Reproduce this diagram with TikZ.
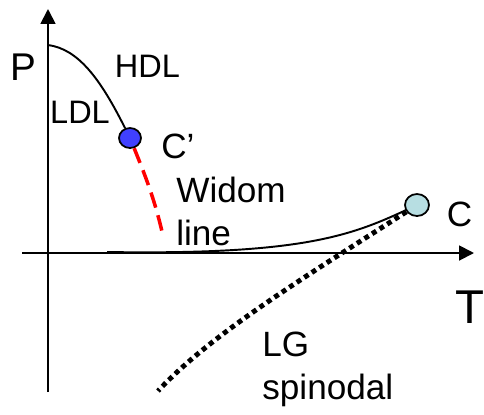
\documentclass[tikz,border=0pt]{standalone}
\usepackage{fontspec}
\setmainfont{Liberation Sans}
\usetikzlibrary{arrows.meta,shapes.geometric}
\definecolor{cpblue}{RGB}{64,64,255}
\definecolor{cblue}{RGB}{183,222,226}
\tikzset{
  every picture/.style={line join=round, >={Triangle[length=8.5pt,width=8.5pt]}},
  axis/.style={line width=1.1pt,->},
  curve/.style={line width=1.1pt},
  critpt/.style={draw,ellipse,line width=1pt,minimum width=0.44cm,minimum height=0.4cm,inner sep=0pt},
  lbl/.style={inner sep=0pt,font=\fontsize{18.5}{24}\selectfont},
  biglbl/.style={inner sep=0pt,font=\fontsize{20}{24.5}\selectfont},
}

\begin{document}
\begin{tikzpicture}[x=0.02cm,y=-0.02cm]
\useasboundingbox (0,0) rectangle (484,414);
% axes
\draw[axis](48,392)--(48,9);
\draw[axis](22,253)--(474,253);
\node[inner sep=0pt,font=\fontsize{22}{26}\selectfont] (P) at (23.5,67.5) {P};
\node[inner sep=0pt,font=\fontsize{27}{30}\selectfont] (T) at (469.5,307.5) {T};
% critical points
\node[critpt,fill=cpblue] (Cp) at (130,138) {};
\node[critpt,fill=cblue,minimum width=0.48cm,minimum height=0.44cm] (C) at (417,205) {};
\coordinate (top) at (48,45);
\coordinate (widom) at (163,236);
\coordinate (gas) at (107,252);
\coordinate (spin) at (158,391);
% lines
\draw[curve](top)..controls(78,49)and(100,78)..(Cp);
\draw[red,line width=2pt,dash pattern=on 9pt off 4.5pt](Cp)..controls(145,175)and(155,200)..(widom);
\draw[curve](gas)..controls(300,255)and(350,236)..(C);
\draw[line width=2.8pt,dash pattern=on 2.8pt off 2.3pt](C)..controls(300,280)and(210,335)..(spin);
% labels
\node[lbl] (hdl) at (147.5,66.5) {HDL};
\node[lbl] (ldl) at (80,112.5) {LDL};
\node[biglbl,anchor=base west] (Cplbl) at (161,158) {C’};
\node[biglbl] (Clbl) at (459.5,214) {C};
\node[biglbl,anchor=north west,align=left] (wl) at (176,177) {Widom\\line};
\node[biglbl,anchor=north west,align=left] (lg) at (262,332) {LG\\spinodal};
\end{tikzpicture}
\end{document}
